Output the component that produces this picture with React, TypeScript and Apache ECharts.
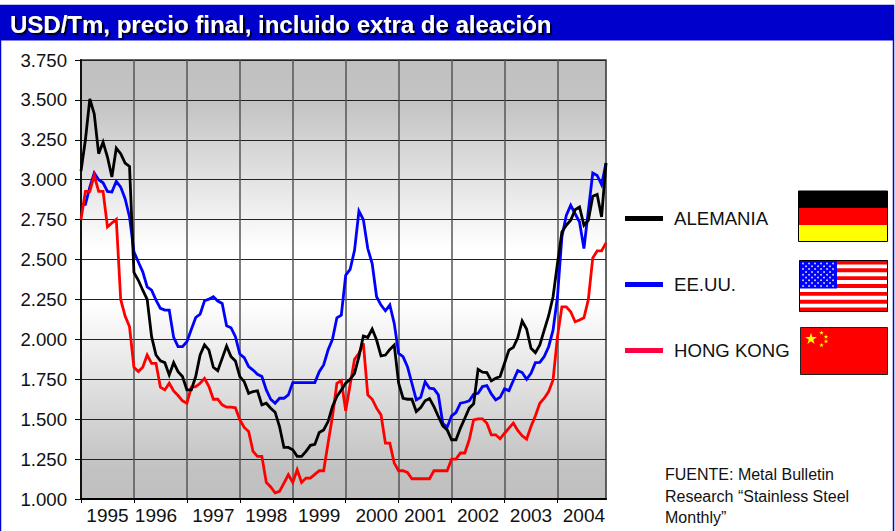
import React, { useEffect, useRef } from "react";
import * as echarts from "echarts";

const titleText = "USD/Tm, precio final, incluido extra de aleación";
const sourceText = "FUENTE: Metal Bulletin\nResearch “Stainless Steel\nMonthly”";
const years = [1995, 1996, 1997, 1998, 1999, 2000, 2001, 2002, 2003, 2004];
const months = ["01", "02", "03", "04", "05", "06", "07", "08", "09", "10", "11", "12"];
const categories = years.flatMap((y) => months.map((m) => `${y}-${m}`));
const yearLabelMonths = ["1995-07", "1996-06", "1997-07", "1998-07", "1999-07", "2000-08", "2001-07", "2002-07", "2003-07", "2004-07"];

const alemania = [
  3054, 3250, 3506, 3412, 3163, 3235, 3142, 3017, 3198, 3163, 3104, 3083,
  2420, 2370, 2308, 2250, 2017, 1902, 1865, 1854, 1777, 1854, 1798, 1767,
  1683, 1683, 1767, 1902, 1965, 1933, 1825, 1804, 1881, 1958, 1892, 1865,
  1767, 1735, 1662, 1673, 1677, 1590, 1600, 1569, 1544, 1454, 1323, 1323,
  1308, 1267, 1267, 1298, 1336, 1342, 1417, 1433, 1485, 1579, 1642, 1683,
  1725, 1750, 1787, 1892, 2021, 2012, 2065, 1996, 1896, 1902, 1937, 1965,
  1725, 1631, 1625, 1625, 1548, 1573, 1615, 1629, 1579, 1517, 1458, 1433,
  1371, 1371, 1444, 1506, 1569, 1596, 1812, 1794, 1792, 1740, 1756, 1767,
  1850, 1933, 1950, 2010, 2115, 2065, 1944, 1917, 1965, 2058, 2148, 2267,
  2475, 2673, 2715, 2746, 2812, 2829, 2715, 2746, 2896, 2908, 2767, 3104,
];
const eeuu = [
  2846, 2846, 2954, 3042, 3000, 2981, 2927, 2923, 2990, 2954, 2881, 2767,
  2548, 2485, 2423, 2329, 2308, 2246, 2194, 2183, 2183, 2012, 1954, 1954,
  1985, 2062, 2137, 2158, 2242, 2252, 2267, 2240, 2225, 2085, 2073, 2017,
  1908, 1885, 1829, 1808, 1781, 1767, 1683, 1625, 1600, 1631, 1631, 1652,
  1729, 1729, 1729, 1729, 1729, 1729, 1798, 1840, 1933, 2000, 2135, 2152,
  2402, 2438, 2558, 2804, 2750, 2569, 2475, 2267, 2215, 2179, 2215, 2100,
  1912, 1892, 1829, 1725, 1621, 1637, 1735, 1694, 1690, 1652, 1475, 1450,
  1521, 1542, 1600, 1606, 1615, 1656, 1662, 1704, 1710, 1658, 1621, 1637,
  1690, 1679, 1742, 1804, 1792, 1750, 1787, 1854, 1856, 1892, 1954, 2058,
  2267, 2642, 2777, 2840, 2787, 2735, 2569, 2808, 3042, 3027, 2969, 3104,
];
const hongKong = [
  2750, 2927, 2927, 3027, 2927, 2927, 2704, 2729, 2752, 2250, 2146, 2079,
  1825, 1798, 1825, 1902, 1850, 1850, 1700, 1683, 1725, 1677, 1648, 1615,
  1600, 1700, 1704, 1725, 1756, 1704, 1625, 1625, 1590, 1575, 1575, 1571,
  1496, 1448, 1423, 1298, 1267, 1267, 1104, 1075, 1038, 1048, 1100, 1152,
  1104, 1183, 1104, 1131, 1131, 1154, 1177, 1177, 1350, 1517, 1725, 1742,
  1552, 1715, 1875, 1912, 1975, 1652, 1625, 1569, 1527, 1350, 1350, 1225,
  1177, 1177, 1167, 1127, 1127, 1127, 1127, 1127, 1177, 1177, 1177, 1177,
  1250, 1250, 1288, 1288, 1371, 1496, 1502, 1502, 1475, 1402, 1402, 1377,
  1412, 1444, 1475, 1429, 1396, 1375, 1454, 1521, 1600, 1631, 1673, 1746,
  2017, 2204, 2204, 2173, 2110, 2121, 2135, 2250, 2510, 2554, 2554, 2604,
];

const NAVY = "#0000CC";
const FONT = "'Liberation Sans', Arial, sans-serif";

function starPoints(cx: number, cy: number, r: number) {
  const pts: number[][] = [];
  for (let i = 0; i < 10; i++) {
    const rad = i % 2 === 0 ? r : r * 0.382;
    const a = -Math.PI / 2 + (i * Math.PI) / 5;
    pts.push([cx + rad * Math.cos(a), cy + rad * Math.sin(a)]);
  }
  return pts;
}

function flagGraphics() {
  const out: any[] = [];
  const rect = (x: number, y: number, width: number, height: number, fill: string, stroke?: string) =>
    out.push({
      type: "rect",
      shape: { x, y, width, height },
      style: stroke ? { fill, stroke, lineWidth: 1 } : { fill },
      silent: true,
    });
  // Germany
  rect(798.5, 191, 89, 17, "#000000");
  rect(798.5, 208, 89, 17, "#FF0000");
  rect(798.5, 225, 89, 16.5, "#FFFF00");
  rect(798.5, 191, 89, 50.5, "none", "#000000");
  // USA
  rect(799.5, 260.5, 88, 51, "#FFFFFF");
  const stripeH = 51 / 13;
  for (let i = 0; i < 13; i += 2) rect(799.5, 260.5 + i * stripeH, 88, stripeH, "#FF0000");
  rect(799.5, 260.5, 37.5, 28, "#0000FF");
  for (let row = 0; row < 9; row++) {
    const n = row % 2 === 0 ? 6 : 5;
    for (let c = 0; c < n; c++) {
      out.push({
        type: "circle",
        shape: { cx: 803 + (row % 2 === 0 ? 0 : 3) + c * 6, cy: 263.5 + row * 2.8, r: 0.85 },
        style: { fill: "#E8E8FF" },
        silent: true,
      });
    }
  }
  rect(799.5, 260.5, 88, 51, "none", "#000000");
  // China
  rect(800.5, 327.5, 87, 47, "#FF0000", "#222222");
  const stars: [number, number, number][] = [
    [811, 339, 6.2],
    [821.5, 332.8, 2.4],
    [826, 336.8, 2.4],
    [826, 341.4, 2.4],
    [821.5, 345.2, 2.4],
  ];
  stars.forEach(([cx, cy, r]) =>
    out.push({ type: "polygon", shape: { points: starPoints(cx, cy, r) }, style: { fill: "#FFFF00" }, silent: true })
  );
  return out;
}

export default function App() {
  const ref = useRef<HTMLDivElement>(null);
  useEffect(() => {
    document.body.style.margin = "0";
    const chart = echarts.init(ref.current!, undefined, { renderer: "svg" });
    const lineSeries = (name: string, data: number[], color: string, z: number) => ({
      name,
      type: "line",
      data,
      z,
      showSymbol: false,
      smooth: false,
      lineStyle: { color, width: 2.8, join: "miter" },
      itemStyle: { color },
    });
    chart.setOption({
      animation: false,
      backgroundColor: "#FFFFFF",
      textStyle: { fontFamily: FONT },
      title: [
        {
          text: titleText,
          left: 10,
          top: 12,
          padding: 0,
          textStyle: {
            color: "#FFFFFF",
            fontFamily: FONT,
            fontSize: 24,
            fontWeight: "bold",
            textShadowColor: "#000022",
            textShadowBlur: 1,
            textShadowOffsetX: 2,
            textShadowOffsetY: 2,
          },
        },
        {
          text: sourceText,
          left: 665,
          top: 464,
          padding: 0,
          textStyle: { color: "#111111", fontFamily: FONT, fontSize: 16, fontWeight: "normal", lineHeight: 21.5 },
        },
      ],
      legend: {
        orient: "vertical",
        left: 625,
        top: 209,
        padding: 0,
        itemWidth: 38,
        itemHeight: 5,
        itemGap: 47,
        selectedMode: false,
        textStyle: { color: "#111111", fontFamily: FONT, fontSize: 18.6, padding: [0, 0, 0, 6], lineHeight: 18 },
        data: [
          { name: "ALEMANIA", icon: "rect", itemStyle: { color: "#000000" } },
          { name: "EE.UU.", icon: "rect", itemStyle: { color: "#0000FF" } },
          { name: "HONG KONG", icon: "rect", itemStyle: { color: "#FF0040" } },
        ],
      },
      grid: {
        left: 81,
        top: 60,
        right: 289,
        bottom: 32,
        show: true,
        borderWidth: 1.5,
        borderColor: "#333333",
        backgroundColor: new echarts.graphic.LinearGradient(0, 0, 0, 1, [
          { offset: 0, color: "#C0C0C0" },
          { offset: 0.1, color: "#C4C4C4" },
          { offset: 0.43, color: "#FFFFFF" },
          { offset: 0.55, color: "#FFFFFF" },
          { offset: 0.93, color: "#C2C2C2" },
          { offset: 1, color: "#C0C0C0" },
        ]),
      },
      xAxis: {
        type: "category",
        boundaryGap: false,
        data: categories,
        axisLine: { show: true, lineStyle: { color: "#000000", width: 2 } },
        axisTick: { show: true, length: 4, interval: (i: number) => i % 12 === 0, lineStyle: { color: "#000000", width: 1 } },
        splitLine: { show: true, interval: (i: number) => i % 12 === 0, lineStyle: { color: "#555555", width: 1.5 } },
        axisLabel: {
          interval: (_: number, v: string) => yearLabelMonths.includes(v),
          formatter: (v: string) => v.slice(0, 4),
          color: "#111111",
          fontFamily: FONT,
          fontSize: 19,
          margin: 7,
        },
      },
      yAxis: {
        type: "value",
        min: 1000,
        max: 3750,
        interval: 250,
        axisLine: { show: true, lineStyle: { color: "#111111", width: 2 } },
        axisTick: { show: true, length: 6, lineStyle: { color: "#000000", width: 1 } },
        splitLine: { show: true, lineStyle: { color: "#222222", width: 1.2 } },
        axisLabel: {
          formatter: (v: number) => `${Math.floor(v / 1000)}.${String(v % 1000).padStart(3, "0")}`,
          color: "#111111",
          fontFamily: FONT,
          fontSize: 18.6,
          margin: 14,
        },
      },
      series: [
        lineSeries("EE.UU.", eeuu, "#0000FF", 2),
        lineSeries("HONG KONG", hongKong, "#FF0000", 3),
        lineSeries("ALEMANIA", alemania, "#000000", 4),
      ],
      graphic: [
        {
          type: "rect",
          shape: { x: 0, y: 5.5, width: 894, height: 35 },
          style: { fill: NAVY },
          silent: true,
        },
        {
          type: "rect",
          shape: { x: 0.5, y: 5.5, width: 893, height: 535 },
          style: { fill: "none", stroke: NAVY, lineWidth: 1.5 },
          silent: true,
        },
        ...flagGraphics(),
      ],
    });
    return () => chart.dispose();
  }, []);
  return <div ref={ref} style={{ width: 895, height: 531 }} />;
}
